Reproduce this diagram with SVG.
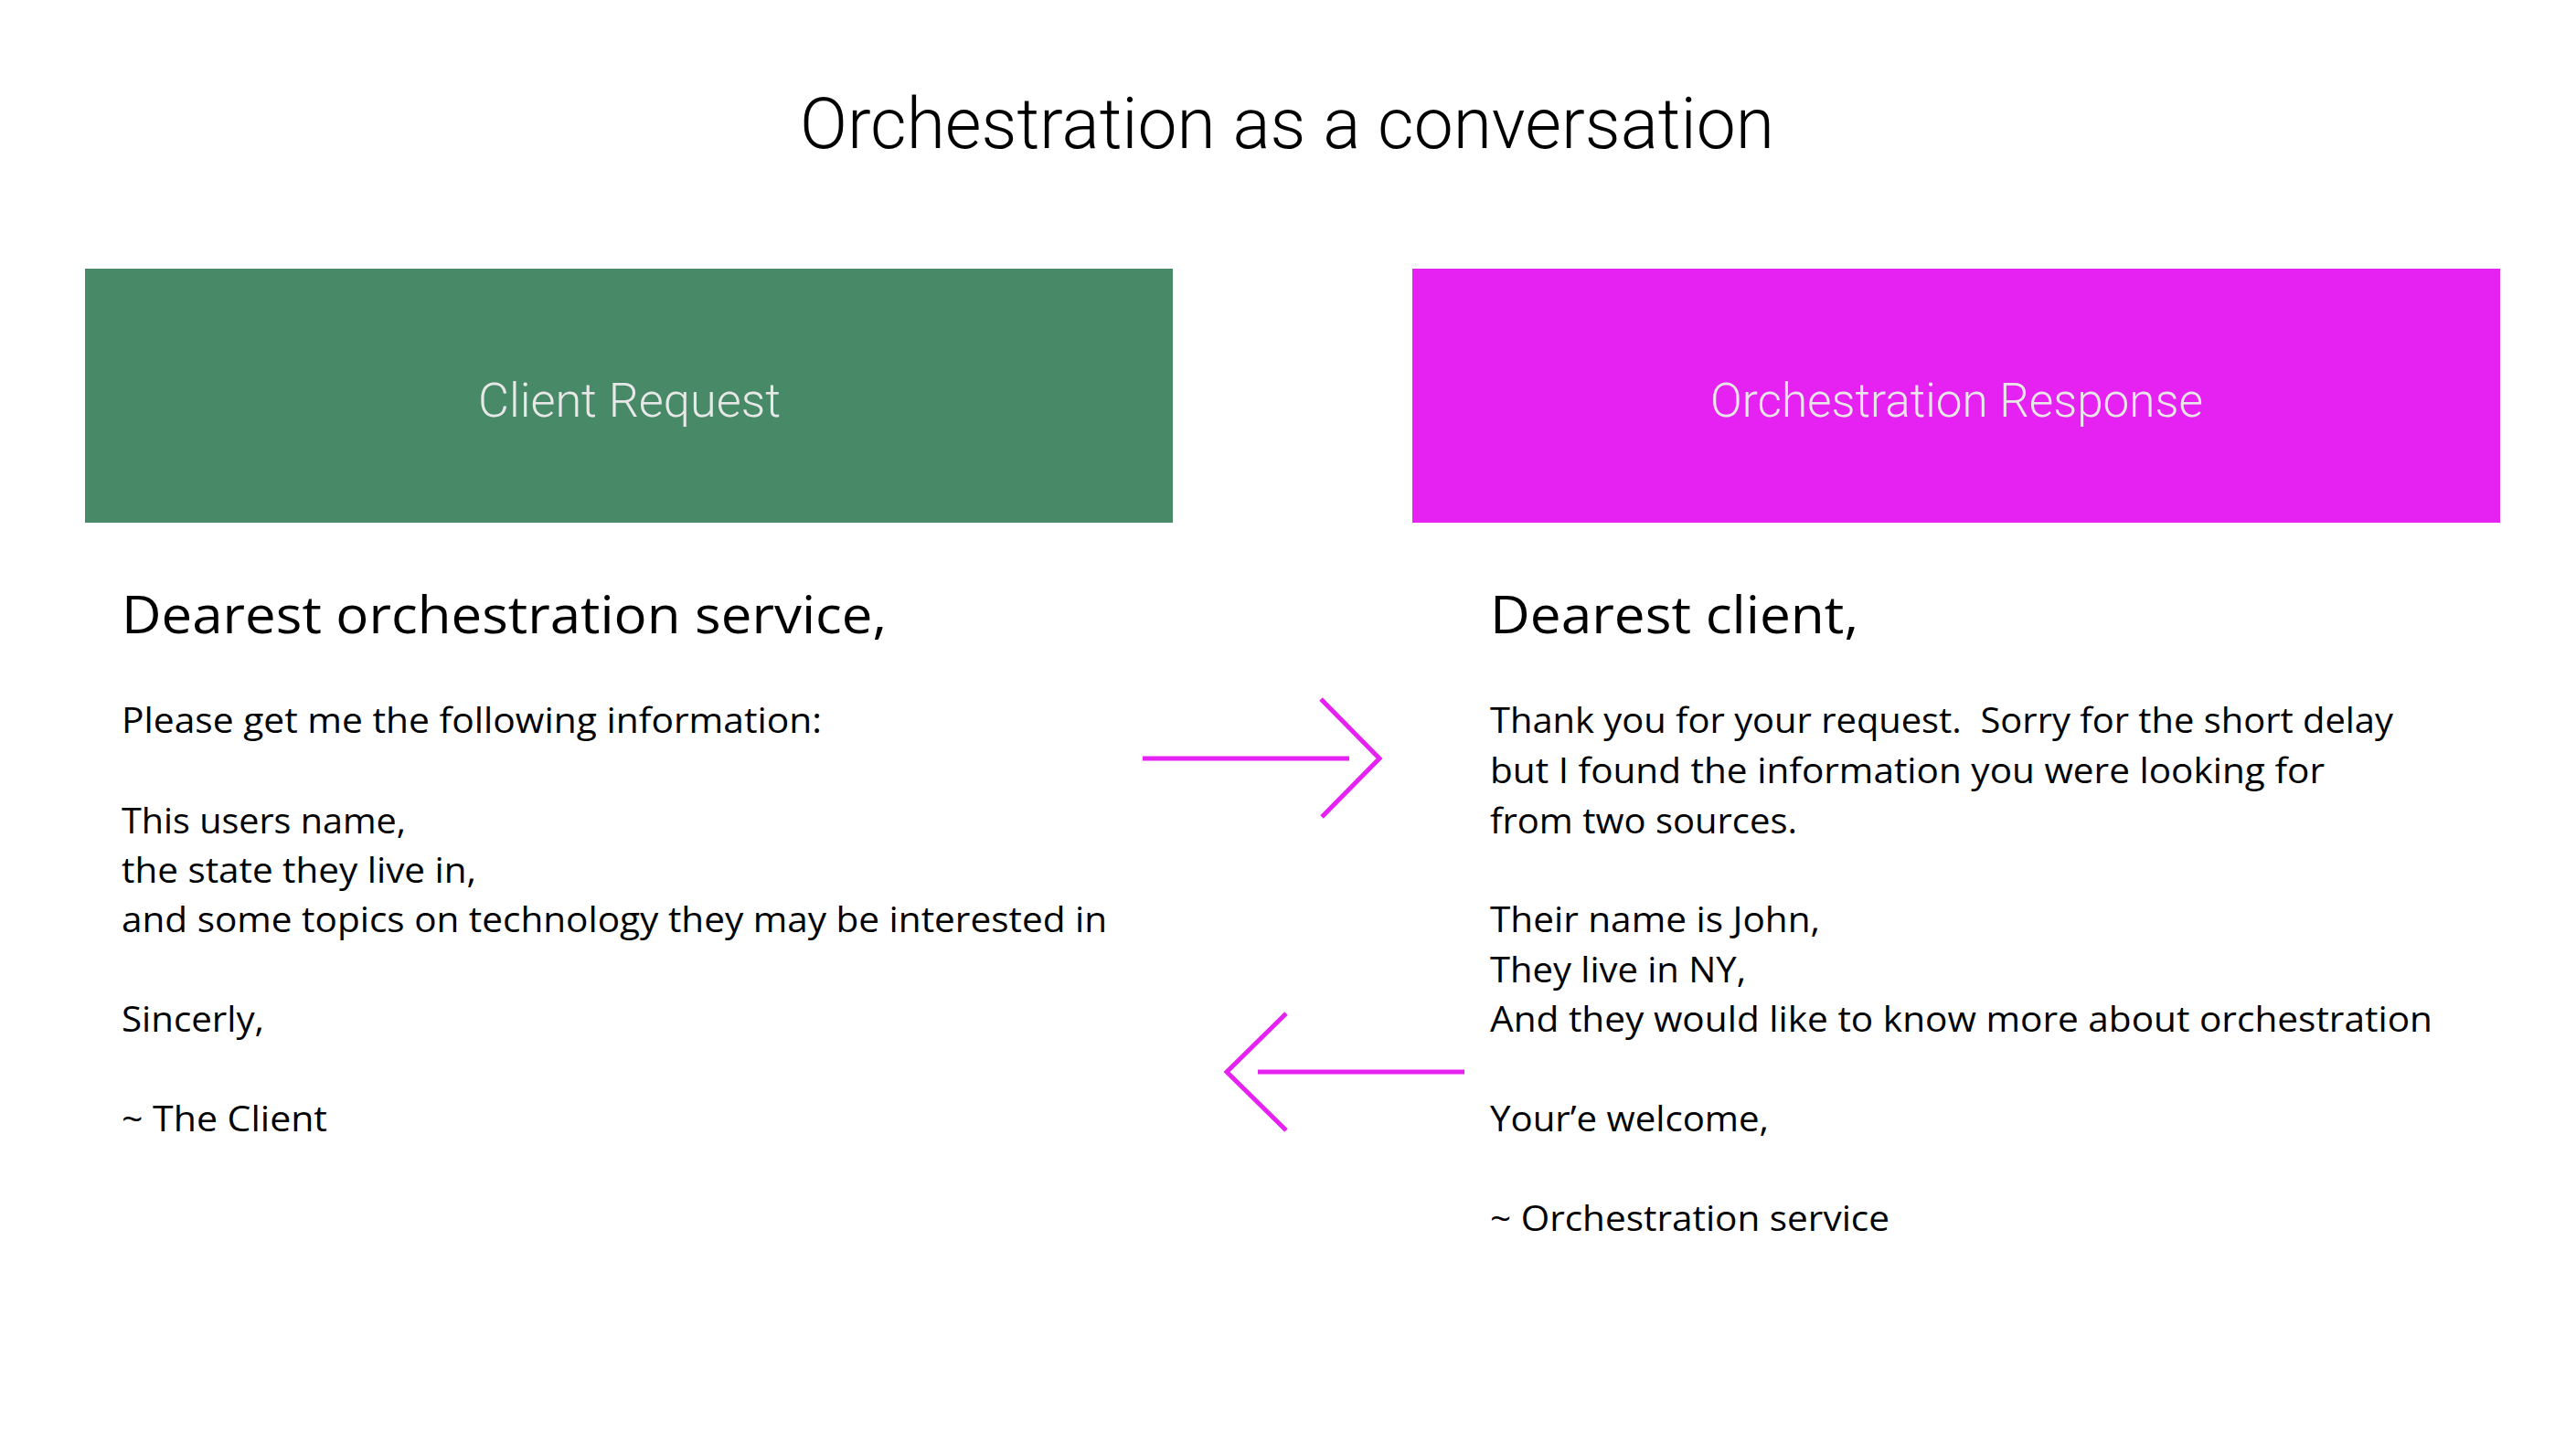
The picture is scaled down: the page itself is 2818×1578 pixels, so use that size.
<svg xmlns="http://www.w3.org/2000/svg" width="2818" height="1578" viewBox="0 0 2818 1578">
<style>
.title{font-family:Roboto,"Liberation Sans",sans-serif;font-weight:300;font-size:77px;fill:#000}
.lbl{font-family:Roboto,"Liberation Sans",sans-serif;font-weight:300;font-size:52px;fill:#E8E8E8}
.head{font-family:"Open Sans","Noto Sans",sans-serif;font-size:57px;fill:#000}
.body{font-family:"Open Sans","Noto Sans",sans-serif;font-size:38px;fill:#000}
.arrow{fill:none;stroke:#E622F2;stroke-width:5}
</style>
<rect width="2818" height="1578" fill="#fff"/>
<text class="title" x="875" y="162" textLength="1066" lengthAdjust="spacingAndGlyphs">Orchestration as a conversation</text>
<g id="client-request">
<rect x="93" y="294" width="1190" height="278" fill="#488A68"/>
<text class="lbl" x="523" y="456" textLength="331" lengthAdjust="spacingAndGlyphs">Client Request</text>
</g>
<g id="orchestration-response">
<rect x="1545" y="294" width="1190" height="278" fill="#E622F2"/>
<text class="lbl" x="1871" y="456" textLength="539" lengthAdjust="spacingAndGlyphs">Orchestration Response</text>
</g>
<g id="request-letter">
<text class="head" x="133" y="693" textLength="837" lengthAdjust="spacingAndGlyphs">Dearest orchestration service,</text>
<text class="body" x="133" y="802" textLength="766" lengthAdjust="spacingAndGlyphs">Please get me the following information:</text>
<text class="body" x="133" y="912" textLength="311" lengthAdjust="spacingAndGlyphs">This users name,</text>
<text class="body" x="133" y="966" textLength="388" lengthAdjust="spacingAndGlyphs">the state they live in,</text>
<text class="body" x="133" y="1020" textLength="1078" lengthAdjust="spacingAndGlyphs">and some topics on technology they may be interested in</text>
<text class="body" x="133" y="1129" textLength="156" lengthAdjust="spacingAndGlyphs">Sincerly,</text>
<text class="body" x="133" y="1238" textLength="225" lengthAdjust="spacingAndGlyphs">~ The Client</text>
</g>
<g id="response-letter">
<text class="head" x="1630" y="693" textLength="403" lengthAdjust="spacingAndGlyphs">Dearest client,</text>
<text class="body" x="1630" y="802" textLength="988" lengthAdjust="spacingAndGlyphs" xml:space="preserve">Thank you for your request.  Sorry for the short delay</text>
<text class="body" x="1630" y="857" textLength="913" lengthAdjust="spacingAndGlyphs">but I found the information you were looking for</text>
<text class="body" x="1630" y="912" textLength="336" lengthAdjust="spacingAndGlyphs">from two sources.</text>
<text class="body" x="1630" y="1020" textLength="361" lengthAdjust="spacingAndGlyphs">Their name is John,</text>
<text class="body" x="1630" y="1075" textLength="280" lengthAdjust="spacingAndGlyphs">They live in NY,</text>
<text class="body" x="1630" y="1129" textLength="1031" lengthAdjust="spacingAndGlyphs">And they would like to know more about orchestration</text>
<text class="body" x="1630" y="1238" textLength="305" lengthAdjust="spacingAndGlyphs">Your’e welcome,</text>
<text class="body" x="1630" y="1347" textLength="437" lengthAdjust="spacingAndGlyphs">~ Orchestration service</text>
</g>
<g id="connectors">
<path class="arrow" d="M1250 830 H1476 M1445 765 L1509 830 L1446 894"/>
<path class="arrow" d="M1602 1173 H1376 M1407 1109 L1342 1173 L1407 1237"/>
</g>
</svg>
